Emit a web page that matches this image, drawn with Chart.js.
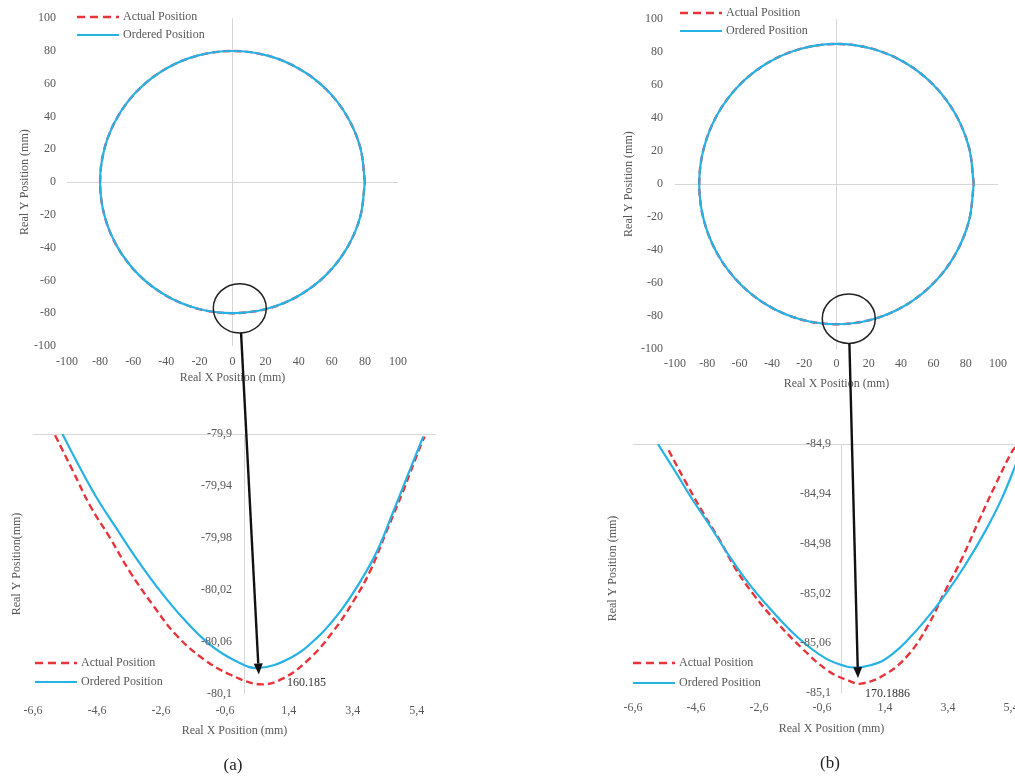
<!DOCTYPE html>
<html>
<head>
<meta charset="utf-8">
<script src="https://cdn.jsdelivr.net/npm/chart.js@4.4.1/dist/chart.umd.min.js"></script>
<style>
  html, body { margin: 0; padding: 0; background: #fff; }
  body { position: relative; width: 1015px; height: 776px; overflow: hidden; }
  canvas { position: absolute; }
  .cap { position: absolute; transform: translate(-50%, -50%); font-family: 'Liberation Serif', serif; font-size: 17px; color: #222; }
</style>
</head>
<body>
<canvas id="fullA" width="420" height="390" style="left:0px;top:0px"></canvas>
<canvas id="fullB" width="415" height="395" style="left:600px;top:0px"></canvas>
<canvas id="zoomA" width="450" height="340" style="left:0px;top:400px"></canvas>
<canvas id="zoomB" width="450" height="340" style="left:600px;top:400px"></canvas>
<canvas id="marks" width="1015" height="776" style="left:0px;top:0px"></canvas>
<div class="cap" style="left:233px;top:765px">(a)</div>
<div class="cap" style="left:830px;top:763px">(b)</div>
<script>
// full circles (mm); actual and ordered sit on top of each other at this scale
const circleA_x = [80, 77.3, 69.3, 56.6, 40, 20.7, 0, -20.7, -40, -56.6, -69.3, -77.3, -80, -77.3, -69.3, -56.6, -40, -20.7, 0, 20.7, 40, 56.6, 69.3, 77.3, 80];
const circleA_y = [0, 20.7, 40, 56.6, 69.3, 77.3, 80, 77.3, 69.3, 56.6, 40, 20.7, 0, -20.7, -40, -56.6, -69.3, -77.3, -80, -77.3, -69.3, -56.6, -40, -20.7, 0];
const circleB_x = [85, 82.1, 73.6, 60.1, 42.5, 22.0, 0, -22.0, -42.5, -60.1, -73.6, -82.1, -85, -82.1, -73.6, -60.1, -42.5, -22.0, 0, 22.0, 42.5, 60.1, 73.6, 82.1, 85];
const circleB_y = [0, 22.0, 42.5, 60.1, 73.6, 82.1, 85, 82.1, 73.6, 60.1, 42.5, 22.0, 0, -22.0, -42.5, -60.1, -73.6, -82.1, -85, -82.1, -73.6, -60.1, -42.5, -22.0, 0];

// zoom on the bottom of each circle
const zoomXTicks = [-6.6, -4.6, -2.6, -0.6, 1.4, 3.4, 5.4];
const zoomXLabels = ['-6,6', '-4,6', '-2,6', '-0,6', '1,4', '3,4', '5,4'];

const zoomAYTicks = [-80.1, -80.06, -80.02, -79.98, -79.94, -79.9];
const zoomAYLabels = ['-80,1', '-80,06', '-80,02', '-79,98', '-79,94', '-79,9'];
const zoomA_orderedX = [-5.68, -5.13, -4.61, -3.98, -3.36, -2.68, -1.90, -1.07, -0.23, 0.44, 1.43, 2.27, 2.99, 3.62, 4.14, 4.66, 5.08, 5.60];
const zoomA_orderedY = [-79.900, -79.926, -79.949, -79.973, -79.996, -80.019, -80.042, -80.062, -80.075, -80.080, -80.0725, -80.057, -80.037, -80.014, -79.991, -79.960, -79.934, -79.902];
const zoomA_actualX = [-5.91, -5.34, -4.82, -4.19, -3.57, -2.84, -2.11, -1.28, -0.44, 0.49, 1.22, 2.06, 2.78, 3.41, 3.93, 4.45, 4.97, 5.55, 5.65];
const zoomA_actualY = [-79.901, -79.929, -79.955, -79.980, -80.006, -80.032, -80.055, -80.073, -80.085, -80.0925, -80.088, -80.0725, -80.052, -80.029, -80.006, -79.975, -79.944, -79.907, -79.902];

const zoomBYTicks = [-85.1, -85.06, -85.02, -84.98, -84.94, -84.9];
const zoomBYLabels = ['-85,1', '-85,06', '-85,02', '-84,98', '-84,94', '-84,9'];
const zoomB_orderedX = [-5.81, -5.26, -4.73, -4.15, -3.57, -2.93, -2.19, -1.34, -0.50, 0.14, 0.53, 0.93, 1.30, 1.67, 2.04, 2.68, 3.31, 3.95, 4.58, 5.11, 5.59];
const zoomB_orderedY = [-84.900, -84.922, -84.944, -84.966, -84.989, -85.012, -85.034, -85.056, -85.072, -85.0785, -85.0795, -85.0777, -85.0745, -85.068, -85.0595, -85.0415, -85.021, -84.997, -84.970, -84.9435, -84.914];
const zoomB_actualX = [-5.47, -4.94, -4.36, -3.83, -3.35, -2.77, -2.08, -1.24, -0.39, 0.24, 0.64, 1.41, 2.15, 2.78, 3.31, 3.84, 4.37, 4.90, 5.43, 5.59];
const zoomB_actualY = [-84.905, -84.930, -84.956, -84.978, -85.000, -85.021, -85.042, -85.064, -85.0825, -85.090, -85.0925, -85.085, -85.069, -85.045, -85.018, -84.992, -84.962, -84.933, -84.906, -84.901];

// circled region on the full plot -> point the arrow lands on in the zoom
const markA = { cx: 4.4, cy: -77, rx: 16, ry: 15, tx: 0.46, ty: -80.085, text: '160.185', lx: 1.34, ly: -80.0915 };
const markB = { cx: 7.6, cy: -81.6, rx: 16.4, ry: 15, tx: 0.54, ty: -85.088, text: '170.1886', lx: 0.76, ly: -85.1004 };

const FONT = "'Liberation Serif', 'Times New Roman', serif";
const TEXT = '#595959';
const BLUE = '#27B2E4';
const RED = '#E8333A';
const GRID = '#D6D6D6';

Chart.defaults.font.family = FONT;
Chart.defaults.font.size = 12;
Chart.defaults.color = TEXT;
Chart.defaults.animation = false;

function toPoints(xs, ys) {
  return xs.map((x, i) => ({ x: x, y: ys[i] }));
}

function lineSets(ordered, actual, tension) {
  return [{
    label: 'Ordered Position',
    data: ordered,
    borderColor: BLUE,
    borderWidth: 2.2,
    pointRadius: 0,
    showLine: true,
    fill: false,
    tension: tension,
  }, {
    label: 'Actual Position',
    data: actual,
    borderColor: RED,
    borderWidth: 2.4,
    borderDash: [7, 4],
    pointRadius: 0,
    showLine: true,
    fill: false,
    tension: tension,
  }];
}

function cornerLegend(x, y1, y2) {
  return {
    id: 'cornerLegend',
    afterDraw(chart) {
      const ctx = chart.ctx;
      ctx.save();
      ctx.lineWidth = 2.4;
      ctx.strokeStyle = RED;
      ctx.setLineDash([8, 5]);
      ctx.beginPath(); ctx.moveTo(x, y1); ctx.lineTo(x + 42, y1); ctx.stroke();
      ctx.lineWidth = 2.2;
      ctx.strokeStyle = BLUE;
      ctx.setLineDash([]);
      ctx.beginPath(); ctx.moveTo(x, y2); ctx.lineTo(x + 42, y2); ctx.stroke();
      ctx.fillStyle = TEXT;
      ctx.font = '12px ' + FONT;
      ctx.textBaseline = 'middle';
      ctx.fillText('Actual Position', x + 46, y1);
      ctx.fillText('Ordered Position', x + 46, y2);
      ctx.restore();
    }
  };
}

// excel-style zoom plot: vertical axis at x = 0 with its labels beside it
function zeroAxis(yTicks, yLabels, gap, mark) {
  return {
    id: 'zeroAxis',
    beforeDatasetsDraw(chart) {
      const ctx = chart.ctx, area = chart.chartArea;
      const x0 = Math.round(chart.scales.x.getPixelForValue(0)) + 0.5;
      ctx.save();
      ctx.strokeStyle = GRID;
      ctx.lineWidth = 1;
      ctx.beginPath(); ctx.moveTo(x0, area.top); ctx.lineTo(x0, area.bottom); ctx.stroke();
      ctx.restore();
    },
    afterDraw(chart) {
      const ctx = chart.ctx, xs = chart.scales.x, ys = chart.scales.y;
      const x0 = xs.getPixelForValue(0);
      ctx.save();
      ctx.font = '12px ' + FONT;
      ctx.fillStyle = TEXT;
      ctx.textAlign = 'right';
      ctx.textBaseline = 'middle';
      yTicks.forEach((v, i) => ctx.fillText(yLabels[i], x0 - gap, ys.getPixelForValue(v)));
      ctx.fillStyle = '#333';
      ctx.textAlign = 'left';
      ctx.fillText(mark.text, xs.getPixelForValue(mark.lx), ys.getPixelForValue(mark.ly));
      ctx.restore();
    }
  };
}

function fullChart(id, xs, ys, canvasBox, plot, pad, legendAt) {
  return new Chart(document.getElementById(id), {
    type: 'scatter',
    data: { datasets: lineSets(toPoints(xs, ys), toPoints(xs, ys), 0.34) },
    options: {
      responsive: false,
      events: [],
      layout: { padding: { top: plot.top - canvasBox.top, right: canvasBox.left + canvasBox.w - plot.right, left: 0, bottom: 0 } },
      plugins: { legend: { display: false }, tooltip: { enabled: false } },
      scales: {
        x: {
          min: -100, max: 100,
          ticks: { stepSize: 20, padding: pad.xTick },
          grid: { drawTicks: false, color: c => (c.tick && c.tick.value === 0) ? GRID : 'transparent' },
          border: { display: false },
          title: { display: true, text: 'Real X Position (mm)', padding: { top: 0, bottom: pad.xTitle } },
          afterFit: s => { s.height = canvasBox.top + canvasBox.h - plot.bottom; },
        },
        y: {
          min: -100, max: 100,
          ticks: { stepSize: 20, padding: pad.yTick },
          grid: { drawTicks: false, color: c => (c.tick && c.tick.value === 0) ? GRID : 'transparent' },
          border: { display: false },
          title: { display: true, text: 'Real Y Position (mm)', padding: { top: pad.yTitle, bottom: 0 } },
          afterFit: s => { s.width = plot.left - canvasBox.left; },
        },
      },
    },
    plugins: [cornerLegend(legendAt.x, legendAt.y1, legendAt.y2)],
  });
}

function zoomChart(id, ordered, actual, yTicks, yLabels, yTitle, canvasBox, plot, pad, legendAt, mark) {
  const top = yTicks[yTicks.length - 1];
  return new Chart(document.getElementById(id), {
    type: 'scatter',
    data: { datasets: lineSets(ordered, actual, 0.4) },
    options: {
      responsive: false,
      events: [],
      layout: { padding: { top: plot.top - canvasBox.top, right: canvasBox.left + canvasBox.w - plot.right, left: 0, bottom: 0 } },
      plugins: { legend: { display: false }, tooltip: { enabled: false } },
      scales: {
        x: {
          min: -6.6, max: 6.0,
          afterBuildTicks: axis => { axis.ticks = zoomXTicks.map(v => ({ value: v })); },
          ticks: { padding: pad.xTick, callback: (v, i) => zoomXLabels[i] },
          grid: { display: false, drawTicks: false },
          border: { display: false },
          title: { display: true, text: 'Real X Position (mm)', padding: { top: 0, bottom: pad.xTitle } },
          afterFit: s => { s.height = canvasBox.top + canvasBox.h - plot.bottom; },
        },
        y: {
          min: yTicks[0], max: top,
          afterBuildTicks: axis => { axis.ticks = yTicks.map(v => ({ value: v })); },
          ticks: { display: false },
          grid: { drawTicks: false, color: c => (c.tick && c.tick.value === top) ? GRID : 'transparent' },
          border: { display: false },
          title: { display: true, text: yTitle, padding: { top: pad.yTitle, bottom: 0 } },
          afterFit: s => { s.width = plot.left - canvasBox.left; },
        },
      },
    },
    plugins: [zeroAxis(yTicks, yLabels, pad.yLabelGap, mark), cornerLegend(legendAt.x, legendAt.y1, legendAt.y2)],
  });
}

const fullA = fullChart('fullA', circleA_x, circleA_y,
  { left: 0, top: 0, w: 420, h: 390 }, { left: 67, right: 398, top: 16, bottom: 346 },
  { xTick: 9, xTitle: 4.8, yTick: 11, yTitle: 17.8 }, { x: 77, y1: 17, y2: 35 });

const fullB = fullChart('fullB', circleB_x, circleB_y,
  { left: 600, top: 0, w: 415, h: 395 }, { left: 675, right: 1000, top: 15, bottom: 349 },
  { xTick: 8, xTitle: 3.8, yTick: 12, yTitle: 22 }, { x: 80, y1: 13, y2: 31 });

const zoomA = zoomChart('zoomA', toPoints(zoomA_orderedX, zoomA_orderedY), toPoints(zoomA_actualX, zoomA_actualY),
  zoomAYTicks, zoomAYLabels, 'Real Y Position(mm)',
  { left: 0, top: 400, w: 450, h: 340 }, { left: 33, right: 436, top: 434, bottom: 694 },
  { xTick: 10, xTitle: 2.1, yTitle: 9.5, yLabelGap: 12 }, { x: 35, y1: 263, y2: 282 }, markA);

const zoomB = zoomChart('zoomB', toPoints(zoomB_orderedX, zoomB_orderedY), toPoints(zoomB_actualX, zoomB_actualY),
  zoomBYTicks, zoomBYLabels, 'Real Y Position (mm)',
  { left: 600, top: 400, w: 450, h: 340 }, { left: 633, right: 1030, top: 444, bottom: 693 },
  { xTick: 8, xTitle: 3.5, yTitle: 6.1, yLabelGap: 10 }, { x: 33, y1: 263, y2: 283 }, markB);

// circle + arrow linking each full plot to its zoom
function drawLink(full, zoom, mark) {
  const ctx = document.getElementById('marks').getContext('2d');
  const fx = full.canvas.offsetLeft, fy = full.canvas.offsetTop;
  const zx = zoom.canvas.offsetLeft, zy = zoom.canvas.offsetTop;
  const cx = fx + full.scales.x.getPixelForValue(mark.cx);
  const cy = fy + full.scales.y.getPixelForValue(mark.cy);
  const rx = Math.abs(full.scales.x.getPixelForValue(mark.cx + mark.rx) - full.scales.x.getPixelForValue(mark.cx));
  const ry = Math.abs(full.scales.y.getPixelForValue(mark.cy + mark.ry) - full.scales.y.getPixelForValue(mark.cy));
  const tx = zx + zoom.scales.x.getPixelForValue(mark.tx);
  const ty = zy + zoom.scales.y.getPixelForValue(mark.ty);

  ctx.save();
  ctx.strokeStyle = '#222';
  ctx.lineWidth = 1.5;
  ctx.beginPath();
  ctx.ellipse(cx, cy, rx, ry, 0, 0, Math.PI * 2);
  ctx.stroke();

  const dx = tx - cx, dy = ty - cy, len = Math.hypot(dx, dy);
  const ux = dx / len, uy = dy / len;
  const k = 1 / Math.sqrt((ux / rx) ** 2 + (uy / ry) ** 2);
  const sx = cx + ux * k, sy = cy + uy * k;
  const head = 11, half = 4.5;
  const bx = tx - ux * head, by = ty - uy * head;
  ctx.strokeStyle = '#111';
  ctx.lineWidth = 2.4;
  ctx.beginPath(); ctx.moveTo(sx, sy); ctx.lineTo(bx, by); ctx.stroke();
  ctx.fillStyle = '#111';
  ctx.beginPath();
  ctx.moveTo(tx, ty);
  ctx.lineTo(bx - uy * half, by + ux * half);
  ctx.lineTo(bx + uy * half, by - ux * half);
  ctx.closePath();
  ctx.fill();
  ctx.restore();
}

drawLink(fullA, zoomA, markA);
drawLink(fullB, zoomB, markB);
</script>
</body>
</html>
